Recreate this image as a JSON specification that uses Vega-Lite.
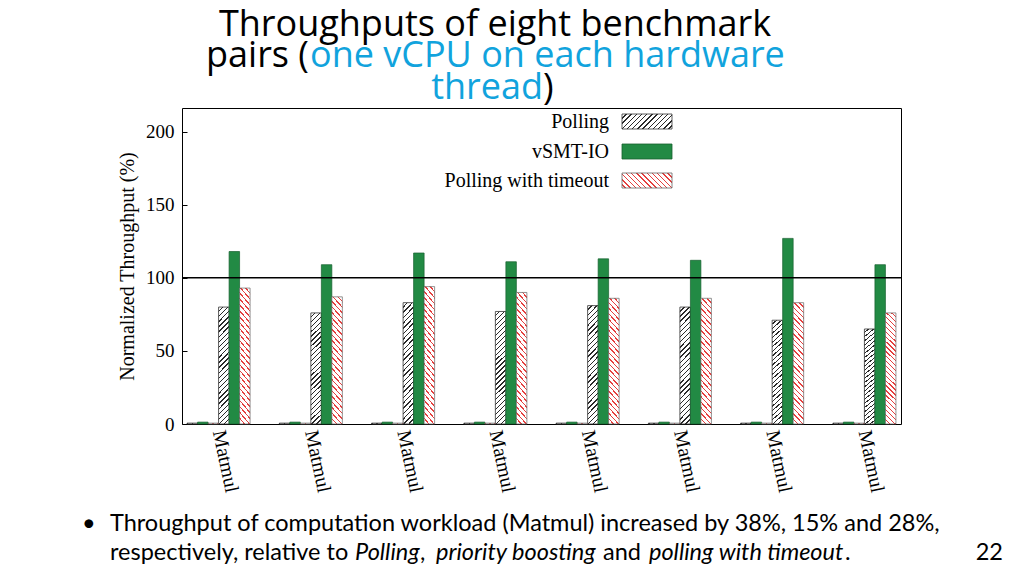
{
  "$schema": "https://vega.github.io/schema/vega-lite/v6.json",
  "description": "Throughputs of eight benchmark pairs (one vCPU on each hardware thread)",
  "width": 719,
  "height": 316,
  "autosize": {"type": "none"},
  "padding": {"left": 182, "top": 108, "right": 123, "bottom": 151},
  "background": "white",
  "config": {
    "view": {"stroke": "black", "strokeWidth": 1},
    "font": "Liberation Serif"
  },
  "datasets": {
    "bars": [
      {"pair": 1, "workload": "I/O", "series": "Polling", "bar": "I/O Polling", "value": 0.6},
      {"pair": 1, "workload": "I/O", "series": "vSMT-IO", "bar": "I/O vSMT-IO", "value": 1.3},
      {"pair": 1, "workload": "I/O", "series": "Polling with timeout", "bar": "I/O Polling with timeout", "value": 0.6},
      {"pair": 1, "workload": "Matmul", "series": "Polling", "bar": "Matmul Polling", "value": 80},
      {"pair": 1, "workload": "Matmul", "series": "vSMT-IO", "bar": "Matmul vSMT-IO", "value": 118},
      {"pair": 1, "workload": "Matmul", "series": "Polling with timeout", "bar": "Matmul Polling with timeout", "value": 93},
      {"pair": 2, "workload": "I/O", "series": "Polling", "bar": "I/O Polling", "value": 0.6},
      {"pair": 2, "workload": "I/O", "series": "vSMT-IO", "bar": "I/O vSMT-IO", "value": 1.3},
      {"pair": 2, "workload": "I/O", "series": "Polling with timeout", "bar": "I/O Polling with timeout", "value": 0.6},
      {"pair": 2, "workload": "Matmul", "series": "Polling", "bar": "Matmul Polling", "value": 76},
      {"pair": 2, "workload": "Matmul", "series": "vSMT-IO", "bar": "Matmul vSMT-IO", "value": 109},
      {"pair": 2, "workload": "Matmul", "series": "Polling with timeout", "bar": "Matmul Polling with timeout", "value": 87},
      {"pair": 3, "workload": "I/O", "series": "Polling", "bar": "I/O Polling", "value": 0.6},
      {"pair": 3, "workload": "I/O", "series": "vSMT-IO", "bar": "I/O vSMT-IO", "value": 1.3},
      {"pair": 3, "workload": "I/O", "series": "Polling with timeout", "bar": "I/O Polling with timeout", "value": 0.6},
      {"pair": 3, "workload": "Matmul", "series": "Polling", "bar": "Matmul Polling", "value": 83},
      {"pair": 3, "workload": "Matmul", "series": "vSMT-IO", "bar": "Matmul vSMT-IO", "value": 117},
      {"pair": 3, "workload": "Matmul", "series": "Polling with timeout", "bar": "Matmul Polling with timeout", "value": 94},
      {"pair": 4, "workload": "I/O", "series": "Polling", "bar": "I/O Polling", "value": 0.6},
      {"pair": 4, "workload": "I/O", "series": "vSMT-IO", "bar": "I/O vSMT-IO", "value": 1.3},
      {"pair": 4, "workload": "I/O", "series": "Polling with timeout", "bar": "I/O Polling with timeout", "value": 0.6},
      {"pair": 4, "workload": "Matmul", "series": "Polling", "bar": "Matmul Polling", "value": 77},
      {"pair": 4, "workload": "Matmul", "series": "vSMT-IO", "bar": "Matmul vSMT-IO", "value": 111},
      {"pair": 4, "workload": "Matmul", "series": "Polling with timeout", "bar": "Matmul Polling with timeout", "value": 90},
      {"pair": 5, "workload": "I/O", "series": "Polling", "bar": "I/O Polling", "value": 0.6},
      {"pair": 5, "workload": "I/O", "series": "vSMT-IO", "bar": "I/O vSMT-IO", "value": 1.3},
      {"pair": 5, "workload": "I/O", "series": "Polling with timeout", "bar": "I/O Polling with timeout", "value": 0.6},
      {"pair": 5, "workload": "Matmul", "series": "Polling", "bar": "Matmul Polling", "value": 81},
      {"pair": 5, "workload": "Matmul", "series": "vSMT-IO", "bar": "Matmul vSMT-IO", "value": 113},
      {"pair": 5, "workload": "Matmul", "series": "Polling with timeout", "bar": "Matmul Polling with timeout", "value": 86},
      {"pair": 6, "workload": "I/O", "series": "Polling", "bar": "I/O Polling", "value": 0.6},
      {"pair": 6, "workload": "I/O", "series": "vSMT-IO", "bar": "I/O vSMT-IO", "value": 1.3},
      {"pair": 6, "workload": "I/O", "series": "Polling with timeout", "bar": "I/O Polling with timeout", "value": 0.6},
      {"pair": 6, "workload": "Matmul", "series": "Polling", "bar": "Matmul Polling", "value": 80},
      {"pair": 6, "workload": "Matmul", "series": "vSMT-IO", "bar": "Matmul vSMT-IO", "value": 112},
      {"pair": 6, "workload": "Matmul", "series": "Polling with timeout", "bar": "Matmul Polling with timeout", "value": 86},
      {"pair": 7, "workload": "I/O", "series": "Polling", "bar": "I/O Polling", "value": 0.6},
      {"pair": 7, "workload": "I/O", "series": "vSMT-IO", "bar": "I/O vSMT-IO", "value": 1.3},
      {"pair": 7, "workload": "I/O", "series": "Polling with timeout", "bar": "I/O Polling with timeout", "value": 0.6},
      {"pair": 7, "workload": "Matmul", "series": "Polling", "bar": "Matmul Polling", "value": 71},
      {"pair": 7, "workload": "Matmul", "series": "vSMT-IO", "bar": "Matmul vSMT-IO", "value": 127},
      {"pair": 7, "workload": "Matmul", "series": "Polling with timeout", "bar": "Matmul Polling with timeout", "value": 83},
      {"pair": 8, "workload": "I/O", "series": "Polling", "bar": "I/O Polling", "value": 0.6},
      {"pair": 8, "workload": "I/O", "series": "vSMT-IO", "bar": "I/O vSMT-IO", "value": 1.3},
      {"pair": 8, "workload": "I/O", "series": "Polling with timeout", "bar": "I/O Polling with timeout", "value": 0.6},
      {"pair": 8, "workload": "Matmul", "series": "Polling", "bar": "Matmul Polling", "value": 65},
      {"pair": 8, "workload": "Matmul", "series": "vSMT-IO", "bar": "Matmul vSMT-IO", "value": 109},
      {"pair": 8, "workload": "Matmul", "series": "Polling with timeout", "bar": "Matmul Polling with timeout", "value": 76}
    ]
  },
  "layer": [
    {
      "data": {"name": "bars"},
      "transform": [{"filter": "datum.series === 'Polling'"}],
      "mark": {
        "type": "bar",
        "stroke": "#333",
        "strokeWidth": 0.8,
        "fill": {
          "gradient": "linear", "x1": 0, "y1": 0, "x2": 0.1, "y2": 1.09,
          "stops": [
            {"offset": 0, "color": "#fff"}, {"offset": 0.029, "color": "#fff"}, {"offset": 0.029, "color": "#2a2a2a"}, {"offset": 0.04, "color": "#2a2a2a"},
            {"offset": 0.04, "color": "#fff"}, {"offset": 0.069, "color": "#fff"}, {"offset": 0.069, "color": "#2a2a2a"}, {"offset": 0.08, "color": "#2a2a2a"},
            {"offset": 0.08, "color": "#fff"}, {"offset": 0.109, "color": "#fff"}, {"offset": 0.109, "color": "#2a2a2a"}, {"offset": 0.12, "color": "#2a2a2a"},
            {"offset": 0.12, "color": "#fff"}, {"offset": 0.149, "color": "#fff"}, {"offset": 0.149, "color": "#2a2a2a"}, {"offset": 0.16, "color": "#2a2a2a"},
            {"offset": 0.16, "color": "#fff"}, {"offset": 0.189, "color": "#fff"}, {"offset": 0.189, "color": "#2a2a2a"}, {"offset": 0.2, "color": "#2a2a2a"},
            {"offset": 0.2, "color": "#fff"}, {"offset": 0.229, "color": "#fff"}, {"offset": 0.229, "color": "#2a2a2a"}, {"offset": 0.24, "color": "#2a2a2a"},
            {"offset": 0.24, "color": "#fff"}, {"offset": 0.269, "color": "#fff"}, {"offset": 0.269, "color": "#2a2a2a"}, {"offset": 0.28, "color": "#2a2a2a"},
            {"offset": 0.28, "color": "#fff"}, {"offset": 0.309, "color": "#fff"}, {"offset": 0.309, "color": "#2a2a2a"}, {"offset": 0.32, "color": "#2a2a2a"},
            {"offset": 0.32, "color": "#fff"}, {"offset": 0.349, "color": "#fff"}, {"offset": 0.349, "color": "#2a2a2a"}, {"offset": 0.36, "color": "#2a2a2a"},
            {"offset": 0.36, "color": "#fff"}, {"offset": 0.389, "color": "#fff"}, {"offset": 0.389, "color": "#2a2a2a"}, {"offset": 0.4, "color": "#2a2a2a"},
            {"offset": 0.4, "color": "#fff"}, {"offset": 0.429, "color": "#fff"}, {"offset": 0.429, "color": "#2a2a2a"}, {"offset": 0.44, "color": "#2a2a2a"},
            {"offset": 0.44, "color": "#fff"}, {"offset": 0.469, "color": "#fff"}, {"offset": 0.469, "color": "#2a2a2a"}, {"offset": 0.48, "color": "#2a2a2a"},
            {"offset": 0.48, "color": "#fff"}, {"offset": 0.509, "color": "#fff"}, {"offset": 0.509, "color": "#2a2a2a"}, {"offset": 0.52, "color": "#2a2a2a"},
            {"offset": 0.52, "color": "#fff"}, {"offset": 0.549, "color": "#fff"}, {"offset": 0.549, "color": "#2a2a2a"}, {"offset": 0.56, "color": "#2a2a2a"},
            {"offset": 0.56, "color": "#fff"}, {"offset": 0.589, "color": "#fff"}, {"offset": 0.589, "color": "#2a2a2a"}, {"offset": 0.6, "color": "#2a2a2a"},
            {"offset": 0.6, "color": "#fff"}, {"offset": 0.629, "color": "#fff"}, {"offset": 0.629, "color": "#2a2a2a"}, {"offset": 0.64, "color": "#2a2a2a"},
            {"offset": 0.64, "color": "#fff"}, {"offset": 0.669, "color": "#fff"}, {"offset": 0.669, "color": "#2a2a2a"}, {"offset": 0.68, "color": "#2a2a2a"},
            {"offset": 0.68, "color": "#fff"}, {"offset": 0.709, "color": "#fff"}, {"offset": 0.709, "color": "#2a2a2a"}, {"offset": 0.72, "color": "#2a2a2a"},
            {"offset": 0.72, "color": "#fff"}, {"offset": 0.749, "color": "#fff"}, {"offset": 0.749, "color": "#2a2a2a"}, {"offset": 0.76, "color": "#2a2a2a"},
            {"offset": 0.76, "color": "#fff"}, {"offset": 0.789, "color": "#fff"}, {"offset": 0.789, "color": "#2a2a2a"}, {"offset": 0.8, "color": "#2a2a2a"},
            {"offset": 0.8, "color": "#fff"}, {"offset": 0.829, "color": "#fff"}, {"offset": 0.829, "color": "#2a2a2a"}, {"offset": 0.84, "color": "#2a2a2a"},
            {"offset": 0.84, "color": "#fff"}, {"offset": 0.869, "color": "#fff"}, {"offset": 0.869, "color": "#2a2a2a"}, {"offset": 0.88, "color": "#2a2a2a"},
            {"offset": 0.88, "color": "#fff"}, {"offset": 0.909, "color": "#fff"}, {"offset": 0.909, "color": "#2a2a2a"}, {"offset": 0.92, "color": "#2a2a2a"},
            {"offset": 0.92, "color": "#fff"}, {"offset": 0.949, "color": "#fff"}, {"offset": 0.949, "color": "#2a2a2a"}, {"offset": 0.96, "color": "#2a2a2a"},
            {"offset": 0.96, "color": "#fff"}, {"offset": 0.989, "color": "#fff"}, {"offset": 0.989, "color": "#2a2a2a"}, {"offset": 1, "color": "#2a2a2a"}
          ]
        }
      },
      "encoding": {
        "x": {
          "field": "pair",
          "type": "ordinal",
          "title": null,
          "scale": {"paddingInner": 0.317, "paddingOuter": 0.055},
          "axis": {
            "labelExpr": "'Matmul'",
            "labelAngle": 78,
            "labelAlign": "left",
            "labelBaseline": "middle",
            "labelFont": "Liberation Serif",
            "labelFontSize": 20,
            "labelColor": "black",
            "labelPadding": 6,
            "labelOverlap": false,
            "ticks": false,
            "domain": false
          }
        },
        "xOffset": {
          "field": "bar",
          "type": "nominal",
          "scale": {
            "domain": ["I/O Polling", "I/O vSMT-IO", "I/O Polling with timeout", "Matmul Polling", "Matmul vSMT-IO", "Matmul Polling with timeout"],
            "paddingInner": 0,
            "paddingOuter": 0
          }
        },
        "y": {
          "field": "value",
          "type": "quantitative",
          "title": "Normalized Throughput (%)",
          "scale": {"domain": [0, 216.2], "nice": false},
          "axis": {
            "values": [0, 50, 100, 150, 200],
            "grid": false,
            "domain": false,
            "tickSize": -5,
            "tickColor": "black",
            "labelPadding": 13,
            "labelFont": "Liberation Serif",
            "labelFontSize": 19,
            "labelColor": "black",
            "titleFont": "Liberation Serif",
            "titleFontSize": 20,
            "titleFontWeight": "normal",
            "titleColor": "black",
            "titlePadding": 8
          }
        }
      }
    },
    {
      "data": {"name": "bars"},
      "transform": [{"filter": "datum.series === 'vSMT-IO'"}],
      "mark": {"type": "bar", "fill": "#228a44", "stroke": "#17602f", "strokeWidth": 0.7},
      "encoding": {
        "x": {"field": "pair", "type": "ordinal"},
        "xOffset": {"field": "bar", "type": "nominal"},
        "y": {"field": "value", "type": "quantitative"}
      }
    },
    {
      "data": {"name": "bars"},
      "transform": [{"filter": "datum.series === 'Polling with timeout'"}],
      "mark": {
        "type": "bar",
        "stroke": "#666",
        "strokeWidth": 0.7,
        "fill": {
          "gradient": "linear", "x1": 1, "y1": 0, "x2": 0.9, "y2": 1.09,
          "stops": [
            {"offset": 0, "color": "#fff"}, {"offset": 0.029, "color": "#fff"}, {"offset": 0.029, "color": "#e5403f"}, {"offset": 0.04, "color": "#e5403f"},
            {"offset": 0.04, "color": "#fff"}, {"offset": 0.069, "color": "#fff"}, {"offset": 0.069, "color": "#e5403f"}, {"offset": 0.08, "color": "#e5403f"},
            {"offset": 0.08, "color": "#fff"}, {"offset": 0.109, "color": "#fff"}, {"offset": 0.109, "color": "#e5403f"}, {"offset": 0.12, "color": "#e5403f"},
            {"offset": 0.12, "color": "#fff"}, {"offset": 0.149, "color": "#fff"}, {"offset": 0.149, "color": "#e5403f"}, {"offset": 0.16, "color": "#e5403f"},
            {"offset": 0.16, "color": "#fff"}, {"offset": 0.189, "color": "#fff"}, {"offset": 0.189, "color": "#e5403f"}, {"offset": 0.2, "color": "#e5403f"},
            {"offset": 0.2, "color": "#fff"}, {"offset": 0.229, "color": "#fff"}, {"offset": 0.229, "color": "#e5403f"}, {"offset": 0.24, "color": "#e5403f"},
            {"offset": 0.24, "color": "#fff"}, {"offset": 0.269, "color": "#fff"}, {"offset": 0.269, "color": "#e5403f"}, {"offset": 0.28, "color": "#e5403f"},
            {"offset": 0.28, "color": "#fff"}, {"offset": 0.309, "color": "#fff"}, {"offset": 0.309, "color": "#e5403f"}, {"offset": 0.32, "color": "#e5403f"},
            {"offset": 0.32, "color": "#fff"}, {"offset": 0.349, "color": "#fff"}, {"offset": 0.349, "color": "#e5403f"}, {"offset": 0.36, "color": "#e5403f"},
            {"offset": 0.36, "color": "#fff"}, {"offset": 0.389, "color": "#fff"}, {"offset": 0.389, "color": "#e5403f"}, {"offset": 0.4, "color": "#e5403f"},
            {"offset": 0.4, "color": "#fff"}, {"offset": 0.429, "color": "#fff"}, {"offset": 0.429, "color": "#e5403f"}, {"offset": 0.44, "color": "#e5403f"},
            {"offset": 0.44, "color": "#fff"}, {"offset": 0.469, "color": "#fff"}, {"offset": 0.469, "color": "#e5403f"}, {"offset": 0.48, "color": "#e5403f"},
            {"offset": 0.48, "color": "#fff"}, {"offset": 0.509, "color": "#fff"}, {"offset": 0.509, "color": "#e5403f"}, {"offset": 0.52, "color": "#e5403f"},
            {"offset": 0.52, "color": "#fff"}, {"offset": 0.549, "color": "#fff"}, {"offset": 0.549, "color": "#e5403f"}, {"offset": 0.56, "color": "#e5403f"},
            {"offset": 0.56, "color": "#fff"}, {"offset": 0.589, "color": "#fff"}, {"offset": 0.589, "color": "#e5403f"}, {"offset": 0.6, "color": "#e5403f"},
            {"offset": 0.6, "color": "#fff"}, {"offset": 0.629, "color": "#fff"}, {"offset": 0.629, "color": "#e5403f"}, {"offset": 0.64, "color": "#e5403f"},
            {"offset": 0.64, "color": "#fff"}, {"offset": 0.669, "color": "#fff"}, {"offset": 0.669, "color": "#e5403f"}, {"offset": 0.68, "color": "#e5403f"},
            {"offset": 0.68, "color": "#fff"}, {"offset": 0.709, "color": "#fff"}, {"offset": 0.709, "color": "#e5403f"}, {"offset": 0.72, "color": "#e5403f"},
            {"offset": 0.72, "color": "#fff"}, {"offset": 0.749, "color": "#fff"}, {"offset": 0.749, "color": "#e5403f"}, {"offset": 0.76, "color": "#e5403f"},
            {"offset": 0.76, "color": "#fff"}, {"offset": 0.789, "color": "#fff"}, {"offset": 0.789, "color": "#e5403f"}, {"offset": 0.8, "color": "#e5403f"},
            {"offset": 0.8, "color": "#fff"}, {"offset": 0.829, "color": "#fff"}, {"offset": 0.829, "color": "#e5403f"}, {"offset": 0.84, "color": "#e5403f"},
            {"offset": 0.84, "color": "#fff"}, {"offset": 0.869, "color": "#fff"}, {"offset": 0.869, "color": "#e5403f"}, {"offset": 0.88, "color": "#e5403f"},
            {"offset": 0.88, "color": "#fff"}, {"offset": 0.909, "color": "#fff"}, {"offset": 0.909, "color": "#e5403f"}, {"offset": 0.92, "color": "#e5403f"},
            {"offset": 0.92, "color": "#fff"}, {"offset": 0.949, "color": "#fff"}, {"offset": 0.949, "color": "#e5403f"}, {"offset": 0.96, "color": "#e5403f"},
            {"offset": 0.96, "color": "#fff"}, {"offset": 0.989, "color": "#fff"}, {"offset": 0.989, "color": "#e5403f"}, {"offset": 1, "color": "#e5403f"}
          ]
        }
      },
      "encoding": {
        "x": {"field": "pair", "type": "ordinal"},
        "xOffset": {"field": "bar", "type": "nominal"},
        "y": {"field": "value", "type": "quantitative"}
      }
    },
    {
      "data": {"values": [{"baseline": 100}]},
      "mark": {"type": "rule", "color": "black", "strokeWidth": 1.5},
      "encoding": {"y": {"field": "baseline", "type": "quantitative"}}
    },
    {
      "data": {"values": [{}]},
      "mark": {
        "type": "rect",
        "stroke": "#333",
        "strokeWidth": 0.8,
        "fill": {
          "gradient": "linear", "x1": 0, "y1": 0, "x2": 1.19, "y2": 0.358,
          "stops": [
            {"offset": 0, "color": "#fff"}, {"offset": 0.058, "color": "#fff"}, {"offset": 0.058, "color": "#2a2a2a"}, {"offset": 0.08, "color": "#2a2a2a"},
            {"offset": 0.08, "color": "#fff"}, {"offset": 0.138, "color": "#fff"}, {"offset": 0.138, "color": "#2a2a2a"}, {"offset": 0.16, "color": "#2a2a2a"},
            {"offset": 0.16, "color": "#fff"}, {"offset": 0.218, "color": "#fff"}, {"offset": 0.218, "color": "#2a2a2a"}, {"offset": 0.24, "color": "#2a2a2a"},
            {"offset": 0.24, "color": "#fff"}, {"offset": 0.298, "color": "#fff"}, {"offset": 0.298, "color": "#2a2a2a"}, {"offset": 0.32, "color": "#2a2a2a"},
            {"offset": 0.32, "color": "#fff"}, {"offset": 0.378, "color": "#fff"}, {"offset": 0.378, "color": "#2a2a2a"}, {"offset": 0.4, "color": "#2a2a2a"},
            {"offset": 0.4, "color": "#fff"}, {"offset": 0.458, "color": "#fff"}, {"offset": 0.458, "color": "#2a2a2a"}, {"offset": 0.48, "color": "#2a2a2a"},
            {"offset": 0.48, "color": "#fff"}, {"offset": 0.538, "color": "#fff"}, {"offset": 0.538, "color": "#2a2a2a"}, {"offset": 0.56, "color": "#2a2a2a"},
            {"offset": 0.56, "color": "#fff"}, {"offset": 0.618, "color": "#fff"}, {"offset": 0.618, "color": "#2a2a2a"}, {"offset": 0.64, "color": "#2a2a2a"},
            {"offset": 0.64, "color": "#fff"}, {"offset": 0.698, "color": "#fff"}, {"offset": 0.698, "color": "#2a2a2a"}, {"offset": 0.72, "color": "#2a2a2a"},
            {"offset": 0.72, "color": "#fff"}, {"offset": 0.778, "color": "#fff"}, {"offset": 0.778, "color": "#2a2a2a"}, {"offset": 0.8, "color": "#2a2a2a"},
            {"offset": 0.8, "color": "#fff"}, {"offset": 0.858, "color": "#fff"}, {"offset": 0.858, "color": "#2a2a2a"}, {"offset": 0.88, "color": "#2a2a2a"},
            {"offset": 0.88, "color": "#fff"}, {"offset": 0.938, "color": "#fff"}, {"offset": 0.938, "color": "#2a2a2a"}, {"offset": 0.96, "color": "#2a2a2a"},
            {"offset": 0.96, "color": "#fff"}, {"offset": 1, "color": "#fff"}
          ]
        }
      },
      "encoding": {"x": {"value": 440}, "x2": {"value": 490}, "y": {"value": 6}, "y2": {"value": 21}}
    },
    {
      "data": {"values": [{}]},
      "mark": {"type": "rect", "fill": "#228a44", "stroke": "#17602f", "strokeWidth": 0.8},
      "encoding": {"x": {"value": 440}, "x2": {"value": 490}, "y": {"value": 36}, "y2": {"value": 51}}
    },
    {
      "data": {"values": [{}]},
      "mark": {
        "type": "rect",
        "stroke": "#666",
        "strokeWidth": 0.8,
        "fill": {
          "gradient": "linear", "x1": 1, "y1": 0, "x2": -0.19, "y2": 0.358,
          "stops": [
            {"offset": 0, "color": "#fff"}, {"offset": 0.058, "color": "#fff"}, {"offset": 0.058, "color": "#e5403f"}, {"offset": 0.08, "color": "#e5403f"},
            {"offset": 0.08, "color": "#fff"}, {"offset": 0.138, "color": "#fff"}, {"offset": 0.138, "color": "#e5403f"}, {"offset": 0.16, "color": "#e5403f"},
            {"offset": 0.16, "color": "#fff"}, {"offset": 0.218, "color": "#fff"}, {"offset": 0.218, "color": "#e5403f"}, {"offset": 0.24, "color": "#e5403f"},
            {"offset": 0.24, "color": "#fff"}, {"offset": 0.298, "color": "#fff"}, {"offset": 0.298, "color": "#e5403f"}, {"offset": 0.32, "color": "#e5403f"},
            {"offset": 0.32, "color": "#fff"}, {"offset": 0.378, "color": "#fff"}, {"offset": 0.378, "color": "#e5403f"}, {"offset": 0.4, "color": "#e5403f"},
            {"offset": 0.4, "color": "#fff"}, {"offset": 0.458, "color": "#fff"}, {"offset": 0.458, "color": "#e5403f"}, {"offset": 0.48, "color": "#e5403f"},
            {"offset": 0.48, "color": "#fff"}, {"offset": 0.538, "color": "#fff"}, {"offset": 0.538, "color": "#e5403f"}, {"offset": 0.56, "color": "#e5403f"},
            {"offset": 0.56, "color": "#fff"}, {"offset": 0.618, "color": "#fff"}, {"offset": 0.618, "color": "#e5403f"}, {"offset": 0.64, "color": "#e5403f"},
            {"offset": 0.64, "color": "#fff"}, {"offset": 0.698, "color": "#fff"}, {"offset": 0.698, "color": "#e5403f"}, {"offset": 0.72, "color": "#e5403f"},
            {"offset": 0.72, "color": "#fff"}, {"offset": 0.778, "color": "#fff"}, {"offset": 0.778, "color": "#e5403f"}, {"offset": 0.8, "color": "#e5403f"},
            {"offset": 0.8, "color": "#fff"}, {"offset": 0.858, "color": "#fff"}, {"offset": 0.858, "color": "#e5403f"}, {"offset": 0.88, "color": "#e5403f"},
            {"offset": 0.88, "color": "#fff"}, {"offset": 0.938, "color": "#fff"}, {"offset": 0.938, "color": "#e5403f"}, {"offset": 0.96, "color": "#e5403f"},
            {"offset": 0.96, "color": "#fff"}, {"offset": 1, "color": "#fff"}
          ]
        }
      },
      "encoding": {"x": {"value": 440}, "x2": {"value": 490}, "y": {"value": 65}, "y2": {"value": 80}}
    },
    {
      "data": {"values": [{}]},
      "mark": {"type": "text", "text": "Polling", "align": "right", "baseline": "middle", "font": "Liberation Serif", "fontSize": 20, "color": "black"},
      "encoding": {"x": {"value": 427}, "y": {"value": 13.5}}
    },
    {
      "data": {"values": [{}]},
      "mark": {"type": "text", "text": "vSMT-IO", "align": "right", "baseline": "middle", "font": "Liberation Serif", "fontSize": 20, "color": "black"},
      "encoding": {"x": {"value": 427}, "y": {"value": 43.5}}
    },
    {
      "data": {"values": [{}]},
      "mark": {"type": "text", "text": "Polling with timeout", "align": "right", "baseline": "middle", "font": "Liberation Serif", "fontSize": 20, "color": "black"},
      "encoding": {"x": {"value": 427}, "y": {"value": 72.5}}
    },
    {
      "data": {"values": [{}]},
      "mark": {"type": "text", "text": "Throughputs of eight benchmark", "align": "center", "baseline": "alphabetic", "font": "Open Sans", "fontSize": 36, "color": "black"},
      "encoding": {"x": {"value": 313}, "y": {"value": -72}}
    },
    {
      "data": {"values": [{}]},
      "mark": {"type": "text", "text": "pairs (", "align": "right", "baseline": "alphabetic", "font": "Open Sans", "fontSize": 36, "color": "black"},
      "encoding": {"x": {"value": 127}, "y": {"value": -41}}
    },
    {
      "data": {"values": [{}]},
      "mark": {"type": "text", "text": "one vCPU on each hardware", "align": "left", "baseline": "alphabetic", "font": "Open Sans", "fontSize": 36, "color": "#11a3dd"},
      "encoding": {"x": {"value": 128}, "y": {"value": -41}}
    },
    {
      "data": {"values": [{}]},
      "mark": {"type": "text", "text": "thread", "align": "right", "baseline": "alphabetic", "font": "Open Sans", "fontSize": 36, "color": "#11a3dd"},
      "encoding": {"x": {"value": 361}, "y": {"value": -9}}
    },
    {
      "data": {"values": [{}]},
      "mark": {"type": "text", "text": ")", "align": "left", "baseline": "alphabetic", "font": "Open Sans", "fontSize": 36, "color": "black"},
      "encoding": {"x": {"value": 361}, "y": {"value": -9}}
    },
    {
      "data": {"values": [{}]},
      "mark": {"type": "text", "text": "•", "align": "left", "baseline": "alphabetic", "font": "Lato", "fontSize": 23.5, "color": "black"},
      "encoding": {"x": {"value": -100}, "y": {"value": 423}}
    },
    {
      "data": {"values": [{}]},
      "mark": {"type": "text", "text": "Throughput of computation workload (Matmul) increased by 38%, 15% and 28%,", "align": "left", "baseline": "alphabetic", "font": "Lato", "fontSize": 23.5, "color": "black"},
      "encoding": {"x": {"value": -72}, "y": {"value": 423}}
    },
    {
      "data": {"values": [{}]},
      "mark": {"type": "text", "text": "respectively, relative to", "align": "left", "baseline": "alphabetic", "font": "Lato", "fontSize": 23.5, "color": "black"},
      "encoding": {"x": {"value": -72}, "y": {"value": 452}}
    },
    {
      "data": {"values": [{}]},
      "mark": {"type": "text", "text": "Polling", "align": "left", "baseline": "alphabetic", "font": "Lato", "fontStyle": "italic", "fontSize": 23.5, "color": "black"},
      "encoding": {"x": {"value": 173}, "y": {"value": 452}}
    },
    {
      "data": {"values": [{}]},
      "mark": {"type": "text", "text": ",", "align": "left", "baseline": "alphabetic", "font": "Lato", "fontSize": 23.5, "color": "black"},
      "encoding": {"x": {"value": 238}, "y": {"value": 452}}
    },
    {
      "data": {"values": [{}]},
      "mark": {"type": "text", "text": "priority boosting", "align": "left", "baseline": "alphabetic", "font": "Lato", "fontStyle": "italic", "fontSize": 23.5, "color": "black"},
      "encoding": {"x": {"value": 254}, "y": {"value": 452}}
    },
    {
      "data": {"values": [{}]},
      "mark": {"type": "text", "text": "and", "align": "left", "baseline": "alphabetic", "font": "Lato", "fontSize": 23.5, "color": "black"},
      "encoding": {"x": {"value": 421}, "y": {"value": 452}}
    },
    {
      "data": {"values": [{}]},
      "mark": {"type": "text", "text": "polling with timeout", "align": "left", "baseline": "alphabetic", "font": "Lato", "fontStyle": "italic", "fontSize": 23.5, "color": "black"},
      "encoding": {"x": {"value": 467}, "y": {"value": 452}}
    },
    {
      "data": {"values": [{}]},
      "mark": {"type": "text", "text": ".", "align": "left", "baseline": "alphabetic", "font": "Lato", "fontSize": 23.5, "color": "black"},
      "encoding": {"x": {"value": 663}, "y": {"value": 452}}
    },
    {
      "data": {"values": [{}]},
      "mark": {"type": "text", "text": "22", "align": "right", "baseline": "alphabetic", "font": "Lato", "fontSize": 23.5, "color": "black"},
      "encoding": {"x": {"value": 821}, "y": {"value": 452}}
    }
  ]
}
